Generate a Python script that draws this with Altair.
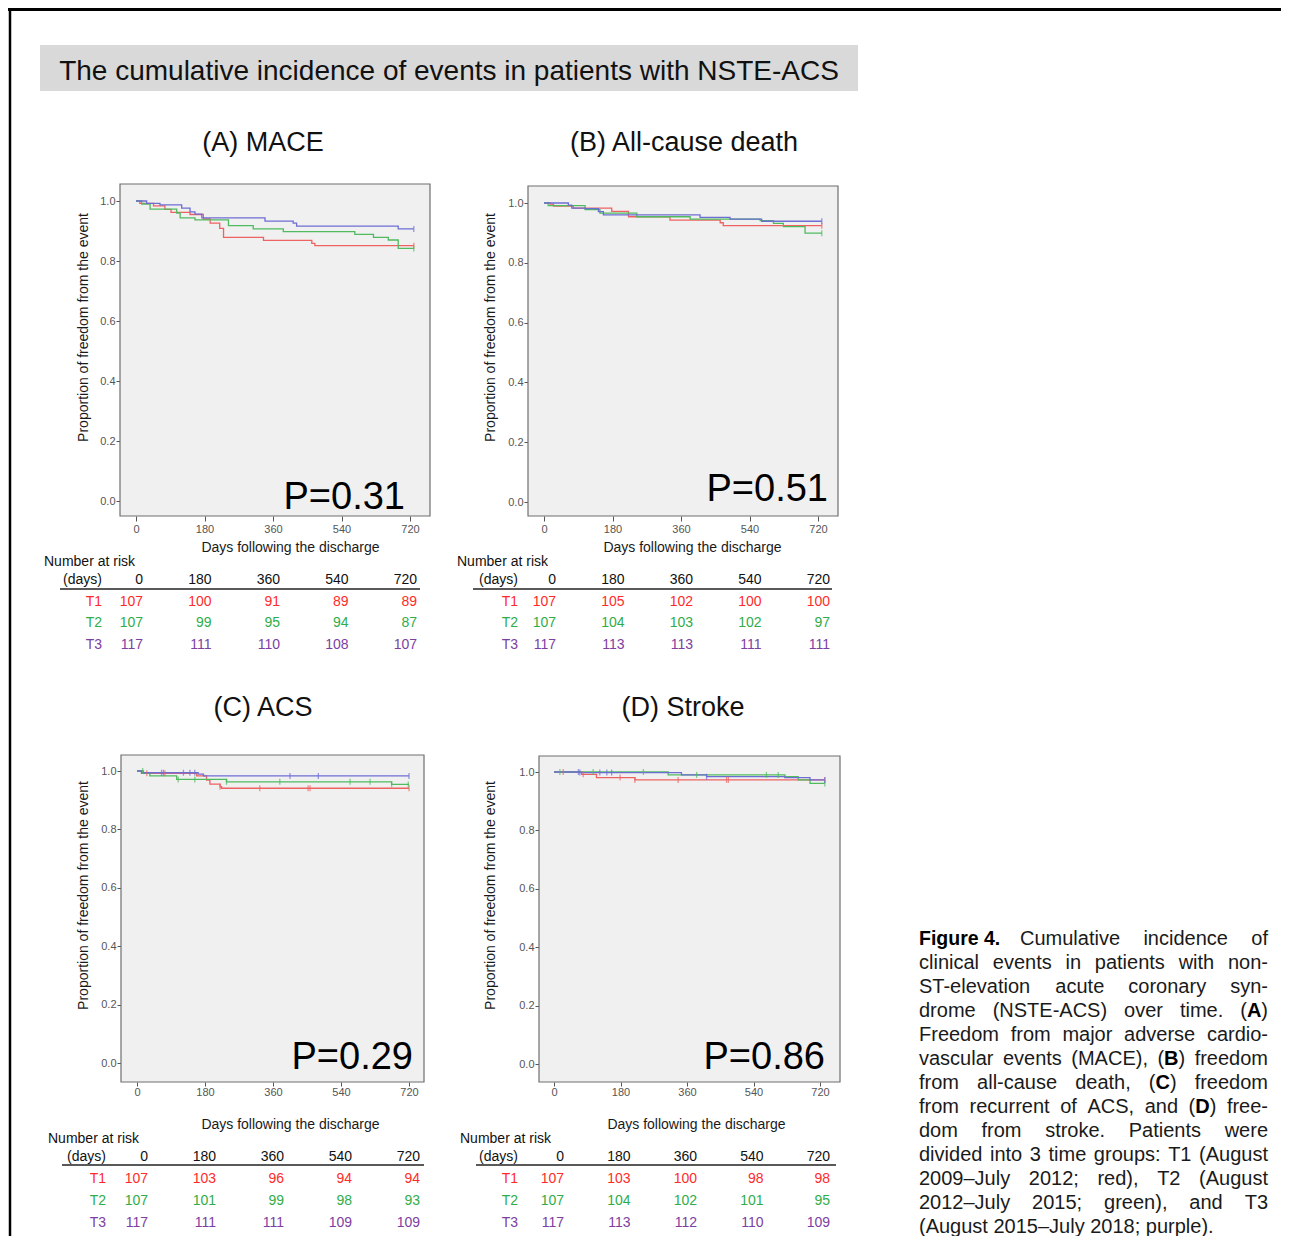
import altair as alt
import pandas as pd

# ---------------- data ----------------
groups = ["T1", "T2", "T3"]
x_ticks = [0, 180, 360, 540, 720]
y_ticks = [0.0, 0.2, 0.4, 0.6, 0.8, 1.0]

panel_titles = {"A": "(A) MACE", "B": "(B) All-cause death", "C": "(C) ACS", "D": "(D) Stroke"}
p_values = {"A": "P=0.31", "B": "P=0.51", "C": "P=0.29", "D": "P=0.86"}

# (A) MACE
a_t1_days = [0, 10, 46, 76, 92, 142, 177, 195, 220, 230, 335, 462, 470, 730]
a_t1_surv = [1.0, 0.992, 0.984, 0.972, 0.962, 0.955, 0.94, 0.926, 0.909, 0.879, 0.869, 0.859, 0.851, 0.851]
a_t2_days = [0, 15, 37, 107, 116, 155, 243, 308, 387, 575, 624, 663, 689, 730]
a_t2_surv = [1.0, 0.99, 0.973, 0.96, 0.944, 0.937, 0.918, 0.907, 0.898, 0.889, 0.879, 0.87, 0.842, 0.842]
a_t3_days = [0, 28, 63, 120, 142, 155, 173, 339, 413, 422, 689, 730]
a_t3_surv = [1.0, 0.992, 0.987, 0.976, 0.964, 0.956, 0.944, 0.933, 0.926, 0.916, 0.907, 0.907]
a_cens = {"T1": [730], "T2": [730], "T3": [730]}
a_risk = {"T1": [107, 100, 91, 89, 89], "T2": [107, 99, 95, 94, 87], "T3": [117, 111, 110, 108, 107]}

# (B) All-cause death
b_t1_days = [0, 16, 25, 77, 178, 222, 331, 463, 471, 730]
b_t1_surv = [1.0, 0.996, 0.99, 0.983, 0.972, 0.954, 0.943, 0.934, 0.924, 0.924]
b_t2_days = [0, 11, 108, 147, 244, 384, 568, 603, 629, 686, 730]
b_t2_surv = [1.0, 0.991, 0.978, 0.966, 0.954, 0.946, 0.941, 0.932, 0.921, 0.899, 0.899]
b_t3_days = [0, 64, 73, 108, 143, 156, 410, 489, 572, 730]
b_t3_surv = [1.0, 0.993, 0.983, 0.981, 0.971, 0.96, 0.952, 0.946, 0.939, 0.939]
b_cens = {"T1": [730], "T2": [730], "T3": [730]}
b_risk = {"T1": [107, 105, 102, 100, 100], "T2": [107, 104, 103, 102, 97], "T3": [117, 113, 113, 111, 111]}

# (C) ACS
c_t1_days = [0, 12, 158, 184, 193, 220, 224, 720]
c_t1_surv = [1.0, 0.992, 0.983, 0.969, 0.955, 0.946, 0.941, 0.941]
c_t2_days = [0, 17, 34, 105, 237, 674, 720]
c_t2_surv = [1.0, 0.992, 0.983, 0.971, 0.963, 0.954, 0.954]
c_t3_days = [0, 12, 162, 176, 720]
c_t3_surv = [1.0, 0.994, 0.989, 0.983, 0.983]
c_cens = {"T1": [26, 74, 220, 325, 453, 458, 720],
          "T2": [15, 109, 153, 237, 378, 564, 617, 674, 718],
          "T3": [65, 70, 123, 140, 153, 405, 480, 720]}
c_risk = {"T1": [107, 103, 96, 94, 94], "T2": [107, 101, 99, 98, 93], "T3": [117, 111, 111, 109, 109]}

# (D) Stroke
d_t1_days = [0, 75, 115, 219, 733]
d_t1_surv = [1.0, 0.992, 0.981, 0.973, 0.973]
d_t2_days = [0, 309, 625, 661, 693, 733]
d_t2_surv = [1.0, 0.99, 0.984, 0.973, 0.961, 0.961]
d_t3_days = [0, 70, 345, 413, 625, 693, 733]
d_t3_surv = [1.0, 0.998, 0.99, 0.984, 0.981, 0.973, 0.973]
d_cens = {"T1": [25, 79, 179, 219, 336, 467, 472, 733],
          "T2": [16, 106, 242, 386, 575, 607, 733],
          "T3": [66, 70, 124, 143, 156, 413, 733]}
d_risk = {"T1": [107, 103, 100, 98, 98], "T2": [107, 104, 102, 101, 95], "T3": [117, 113, 112, 110, 109]}

caption_lines = [
    "Cumulative incidence of",
    "clinical events in patients with non-",
    "ST-elevation acute coronary syn-",
    "drome (NSTE-ACS) over time. (**A**)",
    "Freedom from major adverse cardio-",
    "vascular events (MACE), (**B**) freedom",
    "from all-cause death, (**C**) freedom",
    "from recurrent of ACS, and (**D**) free-",
    "dom from stroke. Patients were",
    "divided into 3 time groups: T1 (August",
    "2009\u2013July 2012; red), T2 (August",
    "2012\u2013July 2015; green), and T3",
    "(August 2015\u2013July 2018; purple).",
]

# ---------------- styling / layout ----------------
OFF = 8
W, H = 1273, 1228
FONT = "Liberation Sans, Arial, Helvetica, sans-serif"
NARROW = "Liberation Sans Narrow, Arial Narrow, Liberation Sans, sans-serif"
line_colors = ["#ee6262", "#4fba5e", "#6d6dd4"]
table_colors = ["#ff2b2b", "#30ad4a", "#7d40a2"]

LAYOUT = {
    "A": dict(frame=(120, 184, 430, 516), x0=136, x720=410, y0=501, y1=201, title=(263, 140), p=(405, 495),
              xtitle=(290, 546), ytitle=(83, 327), nar=(44, 560), hdr_y=578, line_y=589, line_x=(60, 420),
              rows_y=(600, 621, 643), lab_x=102, dx=7, tick=5, lpad=2),
    "B": dict(frame=(528, 186, 838, 516), x0=544, x720=818, y0=502, y1=203, title=(684, 140), p=(828, 487),
              xtitle=(692, 546), ytitle=(490, 327), nar=(457, 560), hdr_y=578, line_y=589, line_x=(473, 832),
              rows_y=(600, 621, 643), lab_x=518, dx=12, tick=5, lpad=2),
    "C": dict(frame=(121, 755, 424, 1082), x0=137, x720=409, y0=1063, y1=771, title=(263, 705), p=(413, 1055),
              xtitle=(290, 1123), ytitle=(83, 895), nar=(48, 1137), hdr_y=1155, line_y=1165, line_x=(62, 424),
              rows_y=(1177, 1199, 1221), lab_x=106, dx=11, tick=4, lpad=0),
    "D": dict(frame=(539, 756, 840, 1082), x0=554, x720=820, y0=1064, y1=772, title=(683, 705), p=(825, 1055),
              xtitle=(696, 1123), ytitle=(490, 895), nar=(460, 1137), hdr_y=1155, line_y=1165, line_x=(476, 836),
              rows_y=(1177, 1199, 1221), lab_x=518, dx=10, tick=4, lpad=0),
}

one = pd.DataFrame({"a": [0]})


def tdy(size):
    # small downward nudge so that 'middle' baseline matches visual centre
    return 1 + size * 0.06


def txt(text, x, y, size, align="center", color="#111111", font=FONT, weight="normal"):
    return alt.Chart(pd.DataFrame({"t": [text]})).mark_text(
        align=align, baseline="middle", fontSize=size, font=font, fontWeight=weight, color=color
    ).encode(x=alt.value(x - OFF), y=alt.value(y - OFF + tdy(size)), text="t:N")


def step_value(days, surv, d):
    v = surv[0]
    for dd, ss in zip(days, surv):
        if dd <= d:
            v = ss
    return v


def panel(key, curves, cens, risk):
    L = LAYOUT[key]
    fx0, fy0, fx1, fy1 = L["frame"]
    xs = alt.Scale(domain=[0, 720], range=[L["x0"] - OFF, L["x720"] - OFF], nice=False, zero=False)
    ys = alt.Scale(domain=[0, 1], range=[L["y0"] - OFF, L["y1"] - OFF], nice=False, zero=False)
    xa = alt.Axis(orient="bottom", offset=(fy1 - OFF) - H, values=x_ticks, domain=False, grid=False,
                  tickSize=L["tick"], tickColor="#555555", tickWidth=1,
                  labelFont=NARROW, labelFontSize=11, labelColor="#555555", labelPadding=L["lpad"],
                  labelFlush=False, labelOverlap=False,
                  title="Days following the discharge", titleFont=FONT, titleFontSize=14,
                  titleFontWeight="normal", titleColor="#1a1a1a",
                  titleX=L["xtitle"][0] - OFF, titleY=L["xtitle"][1] - fy1 + 1,
                  titleAlign="center", titleBaseline="middle", titleAngle=0)
    ya = alt.Axis(orient="left", offset=-(fx0 - OFF), values=y_ticks, format=".1f", domain=False, grid=False,
                  tickSize=4, tickColor="#555555", tickWidth=1,
                  labelFont=NARROW, labelFontSize=11, labelColor="#555555", labelPadding=1,
                  labelFlush=False, labelOverlap=False,
                  title="Proportion of freedom from the event", titleFont=FONT, titleFontSize=14,
                  titleFontWeight="normal", titleColor="#1a1a1a",
                  titleX=L["ytitle"][0] - fx0, titleY=L["ytitle"][1] - OFF,
                  titleAlign="center", titleBaseline="middle", titleAngle=270)

    def X(f):
        return alt.X(f, scale=xs, axis=xa)

    def Y(f):
        return alt.Y(f, scale=ys, axis=ya)

    color = alt.Color("group:N", scale=alt.Scale(domain=groups, range=line_colors), legend=None)

    line_rows, cens_rows = [], []
    for g in groups:
        days, surv = curves[g]
        for d, s in zip(days, surv):
            line_rows.append({"group": g, "day": d, "surv": s})
        for d in cens[g]:
            cens_rows.append({"group": g, "day": d, "surv": step_value(days, surv, d)})

    frame = alt.Chart(one).mark_rect(fill="#f0f0f0", stroke="#6f6f6f", strokeWidth=1.2).encode(
        x=alt.value(fx0 - OFF), x2=alt.value(fx1 - OFF), y=alt.value(fy0 - OFF), y2=alt.value(fy1 - OFF))
    lines = alt.Chart(pd.DataFrame(line_rows)).mark_line(interpolate="step-after", strokeWidth=1.3).encode(
        x=X("day:Q"), y=Y("surv:Q"), color=color, detail="group:N")
    ticks = alt.Chart(pd.DataFrame(cens_rows)).mark_tick(orient="vertical", size=6, thickness=1.3).encode(
        x=X("day:Q"), y=Y("surv:Q"), color=color)

    layers = [frame, lines, ticks]
    layers.append(alt.Chart(pd.DataFrame({"day": x_ticks})).mark_text(
        align="right", baseline="middle", fontSize=14, font=FONT, color="#111111", dx=L["dx"]).encode(
        x=X("day:Q"), y=alt.value(L["hdr_y"] - OFF + tdy(14)), text="day:Q"))
    for i, g in enumerate(groups):
        layers.append(alt.Chart(pd.DataFrame({"day": x_ticks, "n": risk[g]})).mark_text(
            align="right", baseline="middle", fontSize=14, font=FONT, color=table_colors[i], dx=L["dx"]).encode(
            x=X("day:Q"), y=alt.value(L["rows_y"][i] - OFF + tdy(14)), text="n:Q"))
        layers.append(txt(g, L["lab_x"], L["rows_y"][i], 14, align="right", color=table_colors[i]))
    layers.append(txt("(days)", L["lab_x"], L["hdr_y"], 14, align="right"))
    layers.append(txt("Number at risk", L["nar"][0], L["nar"][1], 14, align="left"))
    layers.append(alt.Chart(one).mark_rule(color="#222222", strokeWidth=1.5).encode(
        x=alt.value(L["line_x"][0] - OFF), x2=alt.value(L["line_x"][1] - OFF), y=alt.value(L["line_y"] - OFF)))
    layers.append(txt(panel_titles[key], L["title"][0], L["title"][1], 27))
    layers.append(txt(p_values[key], L["p"][0], L["p"][1], 38, align="right", color="#000000"))
    return alt.layer(*layers)


pA = panel("A", {"T1": (a_t1_days, a_t1_surv), "T2": (a_t2_days, a_t2_surv), "T3": (a_t3_days, a_t3_surv)}, a_cens, a_risk)
pB = panel("B", {"T1": (b_t1_days, b_t1_surv), "T2": (b_t2_days, b_t2_surv), "T3": (b_t3_days, b_t3_surv)}, b_cens, b_risk)
pC = panel("C", {"T1": (c_t1_days, c_t1_surv), "T2": (c_t2_days, c_t2_surv), "T3": (c_t3_days, c_t3_surv)}, c_cens, c_risk)
pD = panel("D", {"T1": (d_t1_days, d_t1_surv), "T2": (d_t2_days, d_t2_surv), "T3": (d_t3_days, d_t3_surv)}, d_cens, d_risk)

# ---------------- caption (justified, Arial metrics) ----------------
AW = {" ": 278, "(": 333, ")": 333, "-": 333, "\u2013": 556, ".": 278, ",": 278, ";": 278, ":": 278}
for ch, w in zip("abcdefghijklmnopqrstuvwxyz",
                 [556, 556, 500, 556, 556, 278, 556, 556, 222, 222, 500, 222, 833, 556, 556, 556, 556, 333, 500, 278, 556, 500, 722, 500, 500, 500]):
    AW[ch] = w
for ch, w in zip("ABCDEFGHIJKLMNOPQRSTUVWXYZ",
                 [667, 667, 722, 722, 667, 611, 778, 722, 278, 500, 667, 556, 833, 722, 778, 667, 778, 722, 667, 611, 722, 667, 944, 667, 667, 611]):
    AW[ch] = w
for ch in "0123456789":
    AW[ch] = 556
BW = {"A": 722, "B": 722, "C": 722, "D": 722}
CAP_SIZE = 20
CAP_X0, CAP_X1 = 919, 1268
CAP_Y0, CAP_DY = 937, 24


def seg_w(t, bold):
    tbl = BW if bold else {}
    return sum(tbl.get(c, AW.get(c, 556)) for c in t) * CAP_SIZE / 1000.0


def parse_word(w):
    parts = w.split("**")
    return [(p, i % 2 == 1) for i, p in enumerate(parts) if p]


cap_rows = []
for i, line in enumerate(caption_lines):
    y = CAP_Y0 + i * CAP_DY - OFF + tdy(CAP_SIZE)
    x0 = 1020 if i == 0 else CAP_X0
    words = [parse_word(w) for w in line.split(" ")]
    widths = [sum(seg_w(t, b) for t, b in w) for w in words]
    if i == len(caption_lines) - 1:
        gap = AW[" "] * CAP_SIZE / 1000.0
    else:
        gap = (CAP_X1 - x0 - sum(widths)) / (len(words) - 1)
    x = x0
    for w, wd in zip(words, widths):
        xx = x
        for t, b in w:
            cap_rows.append({"x": xx - OFF, "y": y, "text": t, "bold": b})
            xx += seg_w(t, b)
        x += wd + gap
cap_df = pd.DataFrame(cap_rows)

cap_norm = alt.Chart(cap_df[~cap_df["bold"]]).mark_text(
    align="left", baseline="middle", fontSize=CAP_SIZE, font=FONT, color="#1a1a1a").encode(
    x=alt.X("x:Q", scale=None, axis=None), y=alt.Y("y:Q", scale=None, axis=None), text="text:N")
cap_bold = alt.Chart(cap_df[cap_df["bold"]]).mark_text(
    align="left", baseline="middle", fontSize=CAP_SIZE, font=FONT, fontWeight="bold", color="#000000").encode(
    x=alt.X("x:Q", scale=None, axis=None), y=alt.Y("y:Q", scale=None, axis=None), text="text:N")
fig_label = txt("Figure 4.", 919, 937, 19.5, align="left", font=NARROW, weight="bold", color="#000000")

# ---------------- header & border ----------------
border_top = alt.Chart(one).mark_rule(color="#000000", strokeWidth=3).encode(
    x=alt.value(0), x2=alt.value(W), y=alt.value(1.5))
border_left = alt.Chart(one).mark_rule(color="#000000", strokeWidth=2.5).encode(
    x=alt.value(2), y=alt.value(0), y2=alt.value(H))
title_box = alt.Chart(one).mark_rect(fill="#d9d9d9").encode(
    x=alt.value(40 - OFF), x2=alt.value(858 - OFF), y=alt.value(45 - OFF), y2=alt.value(91 - OFF))
title_text = txt("The cumulative incidence of events in patients with NSTE-ACS", 449, 69, 28)

chart = alt.layer(
    border_top, border_left, title_box, title_text, pA, pB, pC, pD, cap_norm, cap_bold, fig_label
).resolve_scale(x="independent", y="independent").properties(
    width=W, height=H, autosize=alt.AutoSizeParams(type="none"), padding=0, background="white"
).configure_view(stroke=None)

chart.save("out.html", embed_options={"renderer": "svg", "actions": False})
